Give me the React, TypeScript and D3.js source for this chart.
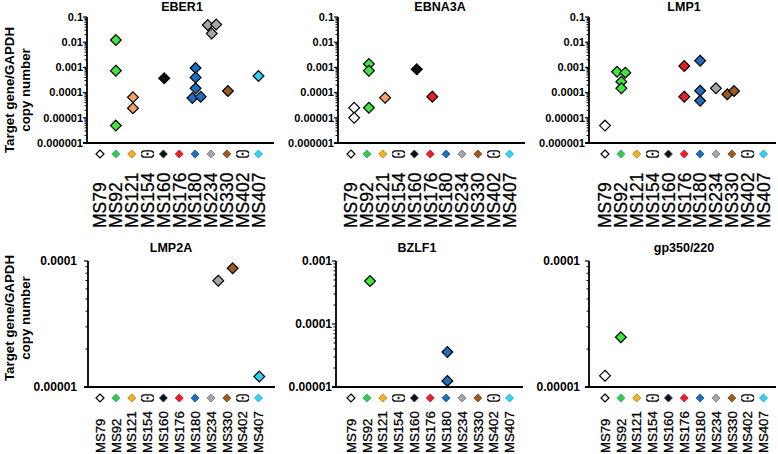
import React from "react";
import * as d3 from "d3";

const categories = ["MS79", "MS92", "MS121", "MS154", "MS160", "MS176", "MS180", "MS234", "MS330", "MS402", "MS407"];
const legendFill = ["#ffffff", "#33cc44", "#f5b324", "", "#111111", "#e8202a", "#1f6ebf", "#a6a6a6", "#9c5b1f", "", "#35d0f0"];
const legendStroke = ["#000000", "#2a9d7e", "#a07010", "", "#203864", "#b01018", "#154a80", "#707070", "#6a3a10", "", "#20a0c0"];
const pointFill = ["#ffffff", "#3ee63e", "#f5a262", "", "#111111", "#e8202a", "#1f6ebf", "#a6a6a6", "#9c5b1f", "", "#35d0f0"];
const negativeCats = ["MS154", "MS402"];

const topTicks = ["0.1", "0.01", "0.001", "0.0001", "0.00001", "0.000001"];
const lmp2aTicks = ["0.0001", "0.00001"];
const bzlf1Ticks = ["0.001", "0.0001", "0.00001"];
const gp350Ticks = ["0.0001", "0.00001"];

const eber1 = [
  { cat: "MS92", v: 0.0122, dx: 0 }, { cat: "MS92", v: 7.4e-4, dx: 0 }, { cat: "MS92", v: 4.9e-6, dx: 0 },
  { cat: "MS121", v: 6.5e-5, dx: 0.08 }, { cat: "MS121", v: 2.4e-5, dx: 0.08 },
  { cat: "MS160", v: 3.7e-4, dx: 0.05 },
  { cat: "MS180", v: 9.5e-4, dx: 0.03 }, { cat: "MS180", v: 4.0e-4, dx: 0.03 }, { cat: "MS180", v: 1.48e-4, dx: 0.03 },
  { cat: "MS180", v: 6.1e-5, dx: -0.17 }, { cat: "MS180", v: 6.9e-5, dx: 0.35 },
  { cat: "MS234", v: 0.048, dx: -0.2 }, { cat: "MS234", v: 0.05, dx: 0.33 }, { cat: "MS234", v: 0.022, dx: 0.05 },
  { cat: "MS330", v: 1.16e-4, dx: 0.07 },
  { cat: "MS407", v: 4.56e-4, dx: 0 },
];
const ebna3a = [
  { cat: "MS79", v: 2.5e-5, dx: 0.2 }, { cat: "MS79", v: 1.0e-5, dx: 0.2 },
  { cat: "MS92", v: 1.36e-3, dx: 0.13 }, { cat: "MS92", v: 7.4e-4, dx: 0.13 }, { cat: "MS92", v: 2.5e-5, dx: 0.13 },
  { cat: "MS121", v: 6.3e-5, dx: 0.15 },
  { cat: "MS160", v: 8.4e-4, dx: 0.15 },
  { cat: "MS176", v: 6.9e-5, dx: 0.13 },
];
const lmp1 = [
  { cat: "MS79", v: 4.9e-6, dx: 0 },
  { cat: "MS92", v: 6.7e-4, dx: -0.24 }, { cat: "MS92", v: 6.2e-4, dx: 0.28 }, { cat: "MS92", v: 2.7e-4, dx: 0.03 }, { cat: "MS92", v: 1.48e-4, dx: 0.03 },
  { cat: "MS176", v: 1.14e-3, dx: 0 }, { cat: "MS176", v: 6.9e-5, dx: 0 },
  { cat: "MS180", v: 1.85e-3, dx: 0 }, { cat: "MS180", v: 1.19e-4, dx: 0 }, { cat: "MS180", v: 4.77e-5, dx: 0 },
  { cat: "MS234", v: 1.48e-4, dx: 0 },
  { cat: "MS330", v: 8.6e-5, dx: -0.28 }, { cat: "MS330", v: 1.16e-4, dx: 0.14 },
];
const lmp2a = [
  { cat: "MS234", v: 6.98e-5, dx: 0.46 },
  { cat: "MS330", v: 8.75e-5, dx: 0.37 },
  { cat: "MS407", v: 1.21e-5, dx: 0.05 },
];
const bzlf1 = [
  { cat: "MS92", v: 4.8e-4, dx: 0.2 },
  { cat: "MS180", v: 3.6e-5, dx: 0.08 }, { cat: "MS180", v: 1.25e-5, dx: 0.08 },
];
const gp350 = [
  { cat: "MS79", v: 1.23e-5, dx: 0 },
  { cat: "MS92", v: 2.48e-5, dx: 0 },
];

type Pt = { cat: string; v: number; dx: number };

const STEP = 15.85;
const FONT = "'Liberation Sans', Arial, sans-serif";

const panels = [
  { title: "EBER1", data: eber1, ticks: topTicks, axisX: 87, firstX: 100, top: 17, bottom: 143, titleX: 182, titleY: 11, tickGap: 4, tickFont: 11, labelFont: 17.5, labelOff: 85 },
  { title: "EBNA3A", data: ebna3a, ticks: topTicks, axisX: 338, firstX: 351, top: 17, bottom: 143, titleX: 440, titleY: 11, tickGap: 4, tickFont: 11, labelFont: 17.5, labelOff: 85 },
  { title: "LMP1", data: lmp1, ticks: topTicks, axisX: 589, firstX: 605, top: 17, bottom: 143, titleX: 684, titleY: 11, tickGap: 4, tickFont: 11, labelFont: 17.5, labelOff: 85 },
  { title: "LMP2A", data: lmp2a, ticks: lmp2aTicks, axisX: 88, firstX: 100, top: 261, bottom: 387, titleX: 171, titleY: 252, tickGap: 11, tickFont: 12, labelFont: 13.2, labelOff: 66 },
  { title: "BZLF1", data: bzlf1, ticks: bzlf1Ticks, axisX: 336, firstX: 351, top: 261, bottom: 387, titleX: 417, titleY: 252, tickGap: 4, tickFont: 12, labelFont: 13.2, labelOff: 66 },
  { title: "gp350/220", data: gp350, ticks: gp350Ticks, axisX: 589, firstX: 605, top: 261, bottom: 387, titleX: 684, titleY: 252, tickGap: 9, tickFont: 12, labelFont: 13.2, labelOff: 66 },
];

const diamond = (x: number, y: number, r: number) => `M${x},${y - r}L${x + r},${y}L${x},${y + r}L${x - r},${y}Z`;

function Panel({ p }: { p: typeof panels[number] }) {
  const vals = p.ticks.map(Number);
  const y = d3.scaleLog().domain([d3.min(vals)!, d3.max(vals)!]).range([p.bottom, p.top]);
  const x = d3.scalePoint<string>().domain(categories).range([p.firstX, p.firstX + STEP * (categories.length - 1)]);
  const lo = Math.round(Math.log10(d3.min(vals)!));
  const hi = Math.round(Math.log10(d3.max(vals)!));
  const minor: number[] = [];
  for (let e = lo; e < hi; e++) for (let m = 2; m <= 9; m++) minor.push(m * Math.pow(10, e));
  const legendY = p.bottom + 11;
  const labelY = p.bottom + p.labelOff;
  return (
    <g>
      <text x={p.titleX} y={p.titleY} textAnchor="middle" fontFamily={FONT} fontWeight="bold" fontSize={12.5}>{p.title}</text>
      {minor.map((m, i) => (
        <line key={"m" + i} x1={p.axisX - 2.5} x2={p.axisX} y1={y(m)} y2={y(m)} stroke="#000" strokeWidth={1} />
      ))}
      {p.ticks.map((t, i) => (
        <g key={"t" + i}>
          <line x1={p.axisX - 4} x2={p.axisX} y1={y(+t)} y2={y(+t)} stroke="#000" strokeWidth={1.2} />
          <text x={p.axisX - p.tickGap} y={y(+t)} dy="0.35em" textAnchor="end" fontFamily={FONT} fontWeight="bold" fontSize={p.tickFont}>{t}</text>
        </g>
      ))}
      <line x1={p.axisX} x2={p.axisX} y1={p.top} y2={p.bottom} stroke="#000" strokeWidth={1.8} />
      <line x1={p.axisX - 4} x2={p.axisX + 187} y1={p.bottom} y2={p.bottom} stroke="#000" strokeWidth={1.8} />
      {(p.data as Pt[]).map((d, i) => {
        const ci = categories.indexOf(d.cat);
        const cx = x(d.cat)! + d.dx * STEP;
        return <path key={"p" + i} d={diamond(cx, y(d.v), 5.4)} fill={pointFill[ci]} stroke="#000" strokeWidth={1.2} />;
      })}
      {categories.map((c, i) => {
        const cx = x(c)!;
        if (negativeCats.includes(c)) {
          return (
            <g key={"l" + i} fill="none" stroke="#000" strokeWidth={1.3}>
              <path d={`M${cx - 6},${legendY - 0.5}Q${cx - 6},${legendY - 3.2} ${cx - 3},${legendY - 3.2}L${cx + 3},${legendY - 3.2}Q${cx + 6},${legendY - 3.2} ${cx + 6},${legendY - 0.5}`} />
              <path d={`M${cx - 6},${legendY + 0.5}Q${cx - 6},${legendY + 3.2} ${cx - 3},${legendY + 3.2}L${cx + 3},${legendY + 3.2}Q${cx + 6},${legendY + 3.2} ${cx + 6},${legendY + 0.5}`} />
              <rect x={cx - 0.9} y={legendY - 1.2} width={1.8} height={2.4} fill="#000" stroke="none" />
            </g>
          );
        }
        return <path key={"l" + i} d={diamond(cx, legendY, 4)} fill={legendFill[i]} stroke={legendStroke[i]} strokeWidth={i === 0 ? 1.2 : 0.8} />;
      })}
      {categories.map((c, i) => (
        <text key={"c" + i} transform={`translate(${x(c)},${labelY}) rotate(-90)`} dy="0.36em" fontFamily={FONT} fontSize={p.labelFont} stroke="#000" strokeWidth={0.3}>{c}</text>
      ))}
    </g>
  );
}

function YLabel({ cy }: { cy: number }) {
  return (
    <g fontFamily={FONT} fontWeight="bold" fontSize={13.3}>
      <text transform={`translate(13.5,${cy}) rotate(-90)`} textAnchor="middle">Target gene/GAPDH</text>
      <text transform={`translate(30,${cy}) rotate(-90)`} textAnchor="middle">copy number</text>
    </g>
  );
}

export default function App() {
  return (
    <svg width={778} height={454} style={{ position: "absolute", left: 0, top: 0, background: "#fff" }}>
      <rect width={778} height={454} fill="#fff" />
      <YLabel cy={90} />
      <YLabel cy={318} />
      {panels.map((p, i) => <Panel key={i} p={p} />)}
    </svg>
  );
}
